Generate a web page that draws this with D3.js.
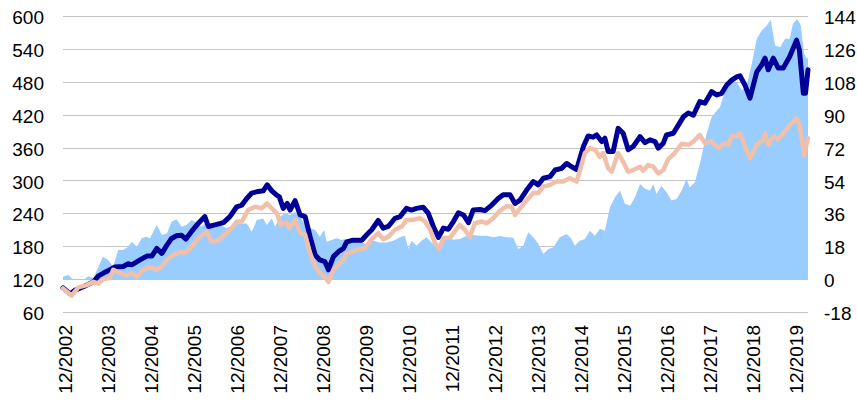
<!DOCTYPE html>
<html>
<head>
<meta charset="utf-8">
<script src="https://cdn.jsdelivr.net/npm/d3@7"></script>
<style>
  html, body { margin: 0; padding: 0; background: #fff; }
  svg { display: block; }
</style>
</head>
<body>
<svg id="chart"></svg>
<script>
// month offsets are counted from 12/2002
const xTickMonths = [0, 12, 24, 36, 48, 60, 72, 84, 96, 108, 120, 132, 144, 156, 168, 180, 192, 204];
const xTickLabels = ['12/2002', '12/2003', '12/2004', '12/2005', '12/2006', '12/2007', '12/2008', '12/2009',
  '12/2010', '12/2011', '12/2012', '12/2013', '12/2014', '12/2015', '12/2016', '12/2017', '12/2018', '12/2019'];
const leftTicks = [60, 120, 180, 240, 300, 360, 420, 480, 540, 600];
const rightTicks = [-18, 0, 18, 36, 54, 72, 90, 108, 126, 144];

// dark blue series (left axis)
const darkMonths = [0, 2.0, 3.4, 5.7, 8.5, 9.9, 11.3, 13.1, 14.5, 16.8, 18.2, 19.2, 21.5, 23.4, 24.8, 26.2, 27.6, 29.0,
  30.3, 31.7, 33.1, 34.3, 35.9, 37.8, 39.6, 40.6, 42.4, 44.8, 46.6, 48.5, 49.9, 51.3, 52.7, 54.5, 55.9, 57.0, 58.3,
  59.5, 60.4, 61.5, 62.6, 63.4, 64.8, 66.2, 67.6, 69.0, 70.4, 71.7, 73.1, 74.1, 75.5, 76.9, 78.3, 79.2, 81.0, 83.4,
  84.8, 86.2, 88.0, 89.4, 90.8, 92.7, 94.1, 95.9, 97.3, 98.7, 100.6, 102.0, 103.4, 104.8, 106.2, 107.6, 109.0, 110.4,
  111.8, 113.2, 114.5, 116.4, 117.8, 119.7, 121.5, 122.9, 124.8, 126.2, 127.6, 129.5, 131.3, 132.7, 134.1, 136.0,
  137.4, 139.2, 140.6, 142.0, 143.4, 145.3, 146.6, 148.0, 149.0, 150.4, 151.3, 152.2, 153.6, 155.0, 156.4, 157.8,
  159.2, 161.1, 162.5, 163.9, 165.3, 166.2, 167.6, 168.5, 170.4, 171.8, 173.2, 174.6, 176.0, 177.8, 179.2, 181.1,
  182.5, 183.9, 185.3, 186.7, 188.1, 189.0, 190.4, 191.8, 193.7, 195.1, 196.0, 196.9, 198.3, 199.7, 201.1, 202.9,
  204.8, 205.6, 206.7, 207.3, 208.0];
const darkValues = [104, 93, 100, 106, 115, 126, 131, 137, 142, 143, 148, 146, 155, 162, 162, 176, 167, 182,
  194, 199, 200, 193, 207, 222, 234, 216, 219, 223, 234, 252, 255, 267, 277, 280, 281, 292, 281,
  274, 270, 249, 258, 246, 263, 237, 234, 197, 164, 155, 152, 137, 161, 170, 176, 188, 191, 191,
  201, 210, 227, 213, 216, 231, 234, 249, 246, 249, 251, 240, 216, 196, 213, 211, 225, 241,
  237, 223, 246, 247, 245, 255, 267, 274, 274, 258, 264, 283, 298, 292, 304, 307,
  319, 322, 331, 325, 320, 362, 381, 379, 383, 371, 377, 353, 353, 395, 386, 356,
  362, 380, 369, 374, 371, 359, 368, 383, 386, 401, 416, 423, 419, 444, 441, 462,
  456, 459, 474, 483, 489, 491, 474, 450, 498, 511, 523, 502, 523, 505, 505, 526,
  556, 538, 459, 459, 502];

// salmon series (left axis)
const salmonMonths = [0, 2.4, 4.3, 6.6, 8.5, 9.9, 11.2, 13.1, 14.0, 15.9, 17.8, 19.2, 20.6, 22.4, 24.3, 26.2, 27.6,
  29.0, 30.8, 32.7, 34.1, 35.9, 37.8, 40.1, 41.5, 43.4, 45.2, 47.1, 48.5, 49.9, 51.7, 53.6, 55.5, 56.9, 58.3, 59.7,
  60.8, 62.3, 63.2, 64.8, 66.2, 67.6, 69.0, 70.4, 71.7, 73.1, 74.1, 75.5, 76.9, 78.3, 79.2, 82.0, 84.3, 86.2, 88.0,
  89.4, 90.8, 92.7, 94.6, 95.9, 97.8, 99.7, 101.1, 102.5, 103.9, 105.1, 106.2, 108.0, 109.4, 110.8, 112.2, 113.6,
  115.0, 116.9, 118.3, 120.1, 122.0, 123.9, 125.3, 126.2, 127.6, 129.5, 131.3, 132.7, 134.1, 136.0, 137.8, 139.7,
  141.5, 143.4, 145.7, 147.1, 148.5, 149.9, 150.8, 152.2, 153.2, 155.0, 156.4, 157.8, 159.2, 161.1, 162.0, 163.4,
  164.8, 166.2, 167.6, 169.0, 170.8, 172.7, 174.6, 176.0, 177.8, 179.2, 181.1, 182.9, 184.8, 185.7, 186.7, 188.1,
  189.0, 190.4, 191.8, 193.7, 195.5, 196.0, 196.9, 198.3, 199.7, 201.1, 202.9, 204.8, 205.7, 206.9, 208.0];
const salmonValues = [103, 90, 105, 109, 115, 112, 120, 122, 137, 131, 126, 131, 124, 137, 142, 137, 143,
  155, 164, 170, 168, 179, 194, 207, 188, 191, 201, 213, 225, 225, 246, 252, 249, 258, 249, 240,
  219, 223, 213, 228, 204, 201, 167, 143, 131, 124, 115, 137, 146, 155, 166, 173, 176, 193, 204,
  193, 197, 210, 216, 228, 228, 231, 225, 210, 185, 176, 195, 195, 207, 219, 210, 197,
  222, 225, 222, 231, 245, 253, 252, 237, 249, 264, 277, 277, 289, 292, 298, 298,
  304, 298, 350, 359, 356, 343, 350, 322, 316, 350, 334, 316, 319, 325, 318, 328,
  325, 313, 319, 339, 350, 367, 365, 371, 383, 368, 371, 359, 368, 365, 380, 381,
  386, 362, 340, 365, 374, 386, 365, 380, 375, 386, 401, 413, 401, 346, 377];

// light blue area (right axis)
const areaMonths = [0, 1.5, 2.8, 5.6, 7.1, 8.5, 9.9, 11.1, 12.6, 14.0, 15.4, 16.8, 18.2, 19.2, 20.6, 22.0, 23.2,
  24.3, 26.2, 27.6, 29.0, 30.3, 31.7, 33.1, 34.5, 35.9, 37.3, 38.7, 40.1, 42.0, 43.8, 45.7, 47.5, 49.4, 51.3, 52.7,
  54.1, 55.9, 56.9, 58.3, 59.2, 60.6, 62.0, 63.4, 64.8, 66.2, 67.6, 69.0, 70.4, 71.7, 72.9, 73.6, 75.0, 76.4, 77.8,
  78.7, 80.6, 82.4, 84.3, 86.6, 88.5, 90.4, 92.2, 94.1, 95.5, 96.4, 97.3, 98.7, 100.1, 101.5, 102.9, 104.3, 105.7,
  107.1, 109.0, 110.8, 112.7, 114.5, 116.4, 118.3, 120.1, 122.0, 123.9, 125.7, 127.1, 128.5, 129.9, 131.3, 132.7,
  134.1, 135.5, 136.9, 138.7, 140.6, 142.0, 142.9, 144.3, 145.7, 147.1, 148.5, 149.9, 151.3, 152.7, 154.1, 155.5,
  156.9, 158.3, 159.7, 161.1, 162.5, 163.9, 164.8, 165.7, 167.1, 168.5, 169.9, 171.3, 172.7, 174.1, 175.0, 176.4,
  177.8, 179.7, 181.1, 182.5, 183.4, 184.3, 185.3, 186.7, 188.1, 189.5, 190.9, 192.3, 193.7, 195.1, 196.5, 197.6,
  198.8, 200.2, 201.6, 202.9, 203.8, 205.0, 206.0, 206.9, 207.7, 208.0];
const areaValues = [1.3, 2.2, -0.3, -0.5, 1.6, 0.5, 6.7, 12.2, 10.4, 6.7, 15.9, 15.9, 17.7, 20.4, 17.7, 22.3, 23.2,
  22.3, 29.6, 24.1, 25, 31.4, 32.7, 28.6, 29.6, 32.3, 30.8, 28.6, 31.4, 27.8, 29.6, 27.8, 29.6, 30.5, 30.5, 25.9,
  32.3, 33.2, 29.6, 33.2, 28.6, 34.1, 36, 35, 36.8, 34.1, 29.6, 27.8, 26.9, 23.2, 26.9, 20.4, 21.4, 22.3, 21.4,
  22, 21, 21, 19.3, 21, 20, 20, 21, 22.9, 23.8, 16.5, 21, 18.3, 21, 22.9, 20, 17.4, 22,
  22.9, 21.5, 22, 23.8, 24.2, 23.8, 23.8, 22.9, 23.6, 22.9, 22.6, 16.5, 18.3, 25.6, 22.9, 19.3,
  13.8, 16.5, 17.4, 22.9, 24.7, 22, 18.3, 21, 22, 26.5, 23.8, 27.5, 26.5, 39.3, 44.8, 48.4,
  41.2, 40.2, 44.8, 52.1, 49.4, 48.4, 52.1, 46.6, 51, 47.5, 43, 43.9, 48.4, 54.8, 50.2, 53,
  63, 79.5, 88.6, 92.2, 94, 99.5, 106, 108.7, 107.7, 103.2, 106, 117.8, 131.5, 136, 138.8, 141.9,
  127.8, 126.9, 131.5, 131.5, 139.7, 142.4, 138.8, 123.3, 120.5, 121.4];

const width = 857;
const height = 401;
const plot = { left: 63, right: 808, top: 16, bottom: 312 };
const font = '"Liberation Sans", Arial, sans-serif';
const fontSize = '19px';

const svg = d3.select('#chart')
  .attr('width', width)
  .attr('height', height)
  .attr('viewBox', `0 0 ${width} ${height}`);

const xScale = d3.scaleLinear().domain([0, 208]).range([plot.left, plot.right]);
const yLeft = d3.scaleLinear().domain([60, 600]).range([plot.bottom, plot.top]);
const yRight = d3.scaleLinear().domain([-18, 144]).range([plot.bottom, plot.top]);

// gridlines
svg.append('g')
  .selectAll('line')
  .data(leftTicks)
  .join('line')
  .attr('x1', plot.left)
  .attr('x2', plot.right)
  .attr('y1', d => Math.round(yLeft(d)) + 0.5)
  .attr('y2', d => Math.round(yLeft(d)) + 0.5)
  .attr('stroke', '#c4c4c4')
  .attr('stroke-width', 1);

const zip = (ms, vs) => ms.map((m, i) => ({ m, v: vs[i] }));

const area = d3.area()
  .x(d => xScale(d.m))
  .y0(yRight(0))
  .y1(d => yRight(d.v));

svg.append('path')
  .attr('d', area(zip(areaMonths, areaValues)))
  .attr('fill', '#99ccff');

const line = d3.line()
  .x(d => xScale(d.m))
  .y(d => yLeft(d.v));

svg.append('path')
  .attr('d', line(zip(darkMonths, darkValues)))
  .attr('fill', 'none')
  .attr('stroke', '#000099')
  .attr('stroke-width', 5)
  .attr('stroke-linejoin', 'round')
  .attr('stroke-linecap', 'round');

svg.append('path')
  .attr('d', line(zip(salmonMonths, salmonValues)))
  .attr('fill', 'none')
  .attr('stroke', '#f0c0aa')
  .attr('stroke-width', 4.5)
  .attr('stroke-linejoin', 'round')
  .attr('stroke-linecap', 'round');

// left axis labels
const leftAxis = d3.axisLeft(yLeft).tickValues(leftTicks).tickSize(0).tickPadding(19)
  .tickFormat(d => String(d));
const leftG = svg.append('g')
  .attr('transform', `translate(${plot.left},0)`)
  .call(leftAxis);
leftG.select('.domain').remove();
leftG.selectAll('.tick text')
  .attr('font-family', font)
  .attr('font-size', fontSize)
  .attr('fill', '#000')
  .attr('dy', '0.4em');

// right axis labels (plain hyphen for the negative tick, as in the original)
const rightAxis = d3.axisRight(yRight).tickValues(rightTicks).tickSize(0).tickPadding(16)
  .tickFormat(d => String(d));
const rightG = svg.append('g')
  .attr('transform', `translate(${plot.right},0)`)
  .call(rightAxis);
rightG.select('.domain').remove();
rightG.selectAll('.tick text')
  .attr('font-family', font)
  .attr('font-size', fontSize)
  .attr('fill', '#000')
  .attr('dy', '0.4em');

// bottom date labels, rotated
svg.append('g')
  .selectAll('text')
  .data(xTickMonths)
  .join('text')
  .attr('transform', d => `translate(${xScale(d) + 2.5},325) rotate(-90)`)
  .attr('text-anchor', 'end')
  .attr('dy', '0.36em')
  .attr('font-family', font)
  .attr('font-size', fontSize)
  .attr('fill', '#000')
  .text((d, i) => xTickLabels[i]);
</script>
</body>
</html>
